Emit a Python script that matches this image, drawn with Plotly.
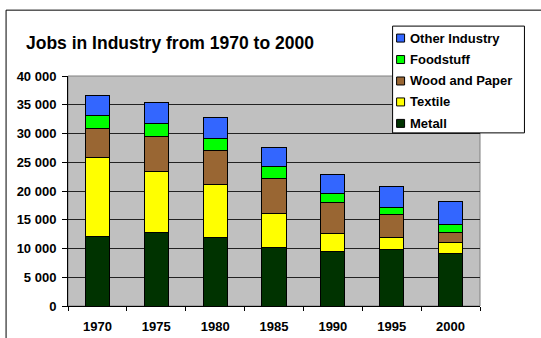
import plotly.graph_objects as go

years = ["1970", "1975", "1980", "1985", "1990", "1995", "2000"]
metall = [12100, 12800, 12000, 10200, 9400, 9800, 9200]
textile = [13750, 10600, 9100, 5900, 3200, 2100, 1800]
wood_paper = [4950, 6000, 6000, 6100, 5400, 4100, 1800]
foodstuff = [2400, 2400, 2100, 2000, 1500, 1200, 1300]
other = [3400, 3600, 3600, 3400, 3400, 3500, 4100]

series = [
    ("Metall", metall, "#003300"),
    ("Textile", textile, "#ffff00"),
    ("Wood and Paper", wood_paper, "#996633"),
    ("Foodstuff", foodstuff, "#00ff00"),
    ("Other Industry", other, "#3366ff"),
]

W, H = 541, 338
L, R, T, B = 68, 60.5, 76, 31.5
pw, ph = W - L - R, H - T - B

def px_x(x):
    return (x - L) / pw

def px_y(y):
    return (H - B - y) / ph

fig = go.Figure()
for name, vals, col in series:
    fig.add_trace(go.Bar(
        x=years, y=vals, name=name,
        marker=dict(color=col, line=dict(color="black", width=1)),
        width=0.41, showlegend=False,
    ))

font = "Liberation Sans, Arial, sans-serif"

shapes = [
    dict(type="rect", xref="paper", yref="paper", x0=0, x1=1, y0=0, y1=1,
         line=dict(color="#808080", width=1), fillcolor="rgba(0,0,0,0)", layer="below"),
    dict(type="line", xref="paper", yref="paper",
         x0=px_x(6), x1=px_x(W + 5), y0=px_y(10), y1=px_y(10),
         line=dict(color="black", width=1)),
    dict(type="line", xref="paper", yref="paper",
         x0=px_x(6), x1=px_x(6), y0=px_y(10), y1=px_y(H + 5),
         line=dict(color="black", width=1)),
    # legend box
    dict(type="rect", xref="paper", yref="paper",
         x0=px_x(393), x1=px_x(525), y0=px_y(133), y1=px_y(26),
         line=dict(color="black", width=1), fillcolor="white", layer="above"),
]
annotations = []
row_y = [38, 59.5, 81, 102, 123.5]
for (name, vals, col), yy in zip(reversed(series), row_y):
    shapes.append(dict(type="rect", xref="paper", yref="paper",
                       x0=px_x(397), x1=px_x(405), y0=px_y(yy + 4), y1=px_y(yy - 4),
                       line=dict(color="black", width=1), fillcolor=col, layer="above"))
    annotations.append(dict(xref="paper", yref="paper", x=px_x(408), y=px_y(yy),
                            xanchor="left", yanchor="middle", showarrow=False,
                            text="<b>" + name + "</b>",
                            font=dict(family=font, size=13, color="black")))

fig.update_layout(
    width=W, height=H,
    margin=dict(l=L, r=R, t=T, b=B, pad=0, autoexpand=False),
    barmode="stack",
    paper_bgcolor="white",
    plot_bgcolor="#c0c0c0",
    separators=". ",
    font=dict(family=font, size=13, color="black"),
    showlegend=False,
    title=dict(
        text="<b>Jobs in Industry from 1970 to 2000</b>",
        x=26 / W, xref="container", xanchor="left",
        y=1 - 43 / H, yref="container", yanchor="middle",
        font=dict(family=font, size=17.5, color="black"),
    ),
    xaxis=dict(
        showline=True, linecolor="black", linewidth=1,
        ticks="outside", tickson="boundaries", ticklen=4, tickcolor="black",
        tickfont=dict(family=font, size=13, weight="bold"),
        ticklabelstandoff=8, automargin=False,
        showgrid=False,
    ),
    yaxis=dict(
        range=[0, 40000], dtick=5000, tickformat=",d",
        showline=True, linecolor="black", linewidth=1,
        ticks="outside", ticklen=5, tickcolor="black",
        tickfont=dict(family=font, size=13, weight="bold"),
        ticklabelstandoff=3, automargin=False,
        showgrid=True, gridcolor="#222222", gridwidth=1,
        zeroline=False,
    ),
    shapes=shapes,
    annotations=annotations,
)

fig.write_html("out.html")
